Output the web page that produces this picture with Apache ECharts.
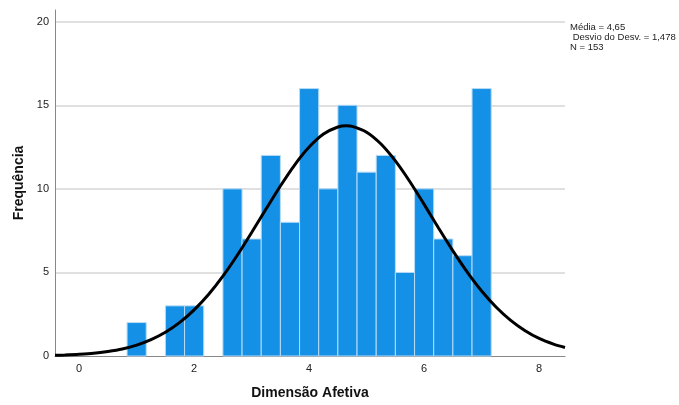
<!DOCTYPE html>
<html><head><meta charset="utf-8">
<script src="https://cdn.jsdelivr.net/npm/echarts@6/dist/echarts.min.js"></script>
<style>html,body{margin:0;padding:0;background:#fff}#c{width:679px;height:405px}</style>
</head><body><div id="c"></div>
<script>
// Histogram bins (centers), width 1/3
const binCenters = [1, 1.6667, 2, 2.6667, 3, 3.3333, 3.6667, 4, 4.3333, 4.6667, 5, 5.3333, 5.6667, 6, 6.3333, 6.6667, 7];
const binCounts  = [2, 3, 3, 10, 7, 12, 8, 16, 10, 15, 11, 12, 5, 10, 7, 6, 16];
const binWidth = 1/3;
// Normal curve points
const curveX = [-0.42, -0.25, 0, 0.25, 0.5, 0.75, 1, 1.25, 1.5, 1.75, 2, 2.25, 2.5, 2.75, 3, 3.25, 3.5, 3.75, 4, 4.25, 4.5, 4.65, 4.75, 5, 5.25, 5.5, 5.75, 6, 6.25, 6.5, 6.75, 7, 7.25, 7.5, 7.75, 8, 8.25, 8.45];
const curveY = [0.04, 0.06, 0.10, 0.16, 0.27, 0.42, 0.65, 0.98, 1.42, 2.01, 2.76, 3.68, 4.78, 6.03, 7.39, 8.79, 10.17, 11.44, 12.50, 13.28, 13.70, 13.77, 13.74, 13.39, 12.68, 11.67, 10.44, 9.07, 7.66, 6.29, 5.02, 3.89, 2.93, 2.15, 1.53, 1.05, 0.71, 0.51];
const xTicks = [0, 2, 4, 6, 8];
const yTicks = [0, 5, 10, 15, 20];
const statsLines = ['Média = 4,65', ' Desvio do Desv. = 1,478', 'N = 153'];

const chart = echarts.init(document.getElementById('c'), null, {renderer: 'canvas'});
const barData = binCenters.map((c, i) => [c - binWidth/2, c + binWidth/2, binCounts[i]]);
const font = 'Liberation Sans, Arial, sans-serif';
chart.setOption({
  animation: false,
  grid: {left: 55, right: 114, top: 10, bottom: 43},
  xAxis: {
    type: 'value', min: -0.42, max: 8.45,
    name: 'Dimensão Afetiva', nameLocation: 'middle', nameGap: 30,
    nameTextStyle: {fontFamily: font, fontSize: 14, fontWeight: 'bold', color: '#111'},
    axisLine: {show: true, onZero: false, lineStyle: {color: '#888', width: 1}},
    axisTick: {show: false},
    splitLine: {show: false},
    axisLabel: {customValues: xTicks, fontFamily: font, fontSize: 11, color: '#222', margin: 7}
  },
  yAxis: {
    type: 'value', min: 0, max: 20.7,
    name: 'Frequência', nameLocation: 'middle', nameGap: 29, nameRotate: 90,
    nameTextStyle: {fontFamily: font, fontSize: 14, fontWeight: 'bold', color: '#111'},
    axisLine: {show: true, onZero: false, lineStyle: {color: '#888', width: 1}},
    axisTick: {show: false},
    axisLabel: {customValues: yTicks, fontFamily: font, fontSize: 11, color: '#222', margin: 6},
    splitLine: {show: true, showMaxLine: false, showMinLine: false, lineStyle: {color: '#d6d6d6', width: 1.5}}
  },
  graphic: [{
    type: 'text', left: 570, top: 22,
    style: {text: statsLines.join('\n'), fontFamily: font, fontSize: 9.5, lineHeight: 10, fill: '#222'}
  }],
  series: [{
    type: 'custom',
    data: barData,
    encode: {x: [0, 1], y: 2},
    renderItem: function (params, api) {
      const p0 = api.coord([api.value(0), api.value(2)]);
      const p1 = api.coord([api.value(1), 0]);
      return {type: 'rect', shape: {x: p0[0], y: p0[1], width: p1[0] - p0[0], height: p1[1] - p0[1]},
        style: {fill: '#1490E6', stroke: '#b8dcf6', lineWidth: 1}};
    },
    z: 2
  }, {
    type: 'line', data: curveX.map((x, i) => [x, curveY[i]]), smooth: 0.3, symbol: 'none',
    lineStyle: {color: '#000', width: 3}, z: 3
  }]
});
</script></body></html>
